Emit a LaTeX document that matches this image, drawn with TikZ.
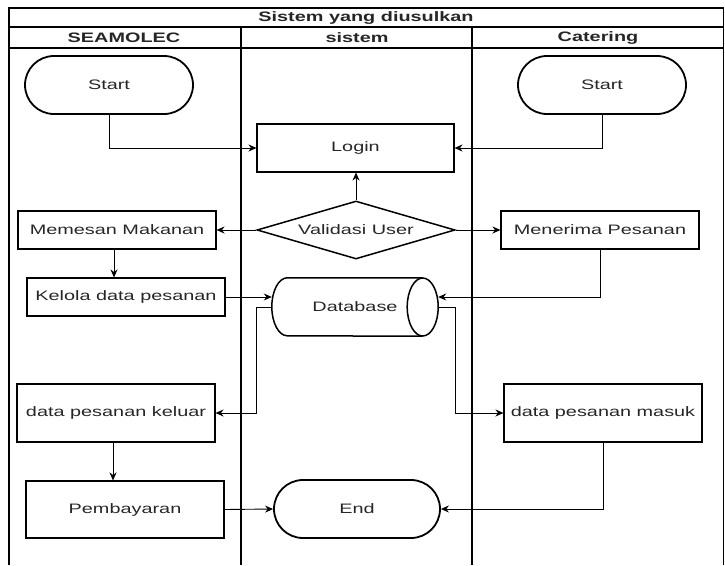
\documentclass[tikz,border=0pt]{standalone}
\usepackage{fontspec}
\setmainfont{Liberation Sans}[FakeStretch=1.45]
\usetikzlibrary{shapes.geometric}
\usetikzlibrary{shapes.misc}
\usetikzlibrary{arrows.meta}

\begin{document}
\begin{tikzpicture}[x=1pt,y=-1pt,
  every node/.style={font=\fontsize{13.7}{16}\selectfont,text=black!85},
  lane/.style={black,line width=1.1pt},
  terminal/.style={draw,rounded rectangle,line width=1.8pt,minimum width=168pt,minimum height=58pt,inner sep=0pt},
  proses/.style={draw,rectangle,line width=1.1pt,minimum width=198pt,minimum height=38pt,inner sep=0pt},
  keputusan/.style={draw,diamond,aspect=3.4,line width=1.5pt,minimum width=198pt,minimum height=58pt,inner sep=0pt},
  basisdata/.style={rectangle,minimum width=166pt,minimum height=58pt,inner sep=0pt},
  tabung/.style={line width=1.5pt},
  panah/.style={line width=0.9pt,-{Stealth[length=8pt,width=7pt]}}]
 \useasboundingbox (0,0) rectangle (725,565);
 \draw[lane] (9,565)--(9,8)--(723.5,8)--(723.5,565);
 \draw[lane] (9,27)--(723.5,27);
 \draw[lane] (9,48)--(723.5,48);
 \draw[lane] (241,27)--(241,565);
 \draw[lane] (472,27)--(472,565);
 \node[font=\fontsize{13.7}{16}\selectfont\bfseries] (judul) at (366,18) {Sistem yang diusulkan};
 \node[font=\fontsize{13.7}{16}\selectfont\bfseries] (seamolec) at (124,38) {SEAMOLEC};
 \node[font=\fontsize{13.7}{16}\selectfont\bfseries] (sistem) at (357,38) {sistem};
 \node[font=\fontsize{13.7}{16}\selectfont\bfseries] (catering) at (598,38) {Catering};

 \node[terminal] (start1) at (109,85) {Start};
 \node[terminal] (start2) at (602,85) {Start};
 \node[proses,minimum width=197pt,minimum height=48pt] (login) at (355.5,148) {Login};
 \node[proses] (memesan) at (117,230) {Memesan Makanan};
 \node[keputusan] (validasi) at (356,230) {Validasi User};
 \node[proses] (menerima) at (600,230) {Menerima Pesanan};
 \node[proses] (kelola) at (126,297) {Kelola data pesanan};
 \node[basisdata] (db) at (355,307) {Database};
 \node[proses,minimum height=58pt] (keluar) at (116,413) {data pesanan keluar};
 \node[proses,minimum height=58pt] (masuk) at (603,413) {data pesanan masuk};
 \node[proses,minimum height=57pt] (bayar) at (125,509.5) {Pembayaran};
 \node[terminal,minimum width=166pt] (end) at (357,509) {End};

 \draw[tabung] ([xshift=-15.5pt]db.north east) -- ([xshift=15.5pt]db.north west)
   arc[start angle=90,end angle=270,x radius=15.5pt,y radius=29pt] -- ([xshift=-15.5pt]db.south east);
 \draw[tabung] ([xshift=-15.5pt]db.east) ellipse[x radius=15.5pt,y radius=29pt];

 \draw[panah] (start1.south) |- (login.west);
 \draw[panah] (start2.south) |- (login.east);
 \draw[panah] (validasi.north) -- (validasi.north |- login.south);
 \draw[panah] (validasi.west) -- (memesan.east);
 \draw[panah] (validasi.east) -- (menerima.west);
 \draw[panah] ([xshift=-3pt]memesan.south) -- ([xshift=-3pt]memesan.south |- kelola.north);
 \draw[panah] (kelola.east) -- (kelola.east -| db.west);
 \draw[panah] (menerima.south) |- (db.east |- kelola.east);
 \draw[panah] (db.west) -- ++(-15,0) |- (keluar.east);
 \draw[panah] (db.east) -- ++(17,0) |- (masuk.west);
 \draw[panah] ([xshift=-3pt]keluar.south) -- ([xshift=-3pt]keluar.south |- bayar.north);
 \draw[panah] (bayar.east) -- (end.west);
 \draw[panah] (masuk.south) |- (end.east);
\end{tikzpicture}
\end{document}
